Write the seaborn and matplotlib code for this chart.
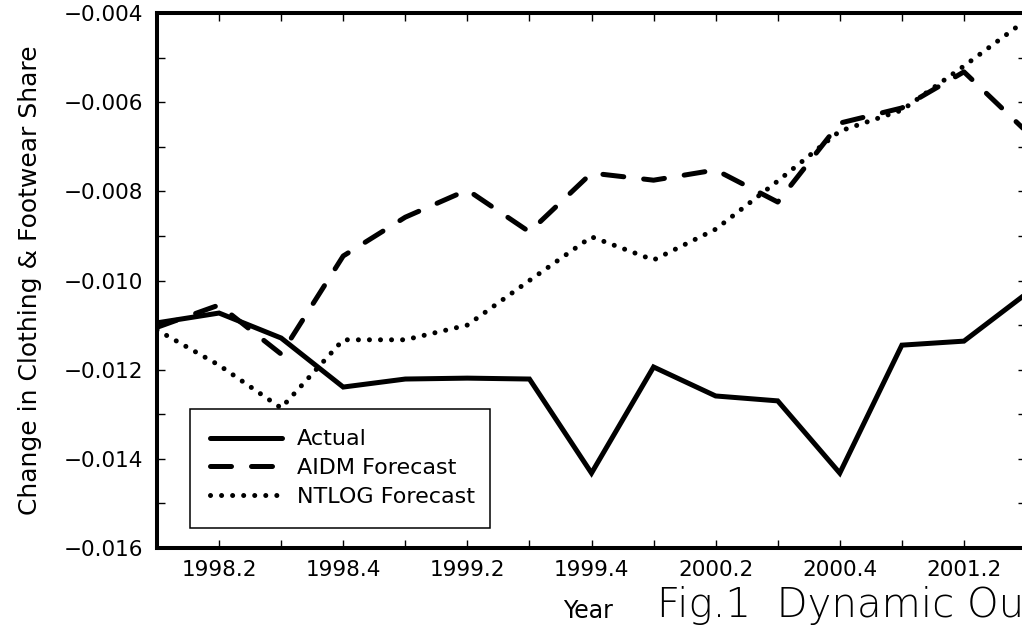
import numpy as np
import pandas as pd
import matplotlib
matplotlib.use("Agg")
import matplotlib.pyplot as plt
import seaborn as sns
from matplotlib.ticker import FixedLocator, MultipleLocator, FixedFormatter

# ---- data ----
quarters = ["1998.1", "1998.2", "1998.3", "1998.4",
            "1999.1", "1999.2", "1999.3", "1999.4",
            "2000.1", "2000.2", "2000.3", "2000.4",
            "2001.1", "2001.2", "2001.3"]
actual = [-0.01095, -0.01073, -0.01129, -0.01239,
          -0.01221, -0.01219, -0.01221, -0.01432,
          -0.01194, -0.01259, -0.01270, -0.01432,
          -0.01145, -0.01136, -0.01030]
aidm = [-0.01105, -0.01055, -0.01165, -0.00945,
        -0.00858, -0.00797, -0.00891, -0.00759,
        -0.00775, -0.00752, -0.00824, -0.00647,
        -0.00613, -0.00532, -0.00665]
ntlog = [-0.01111, -0.01190, -0.01286, -0.01133,
         -0.01133, -0.01100, -0.01000, -0.00902,
         -0.00954, -0.00885, -0.00777, -0.00665,
         -0.00618, -0.00519, -0.00416]
series_names = ["Actual", "AIDM Forecast", "NTLOG Forecast"]
xtick_labels = ["1998.2", "1998.4", "1999.2", "1999.4", "2000.2", "2000.4", "2001.2"]
ytick_values = [-0.016, -0.014, -0.012, -0.010, -0.008, -0.006, -0.004]
ytick_labels = ["\u22120.016", "\u22120.014", "\u22120.012", "\u22120.010",
                "\u22120.008", "\u22120.006", "\u22120.004"]
ylabel = "Change in Clothing & Footwear Share"
xlabel = "Year"
caption = "Fig.1  Dynamic Out-of-Sample Forecasts"

sns.set_style("ticks")
plt.rcParams["font.family"] = ["DejaVu Sans"]
plt.rcParams["text.color"] = "black"
plt.rcParams["axes.labelcolor"] = "black"
plt.rcParams["xtick.color"] = "black"
plt.rcParams["ytick.color"] = "black"

fig = plt.figure(figsize=(10.22, 6.25), dpi=100)
W, H = 1022, 625
ax = fig.add_axes([157 / W, 1 - 548 / H, 869 / W, 535 / H])

x = np.arange(len(quarters))
lw = 3.6
sns.lineplot(x=x, y=actual, ax=ax, color="black", linewidth=lw,
             label=series_names[0], solid_capstyle="round", solid_joinstyle="miter")
sns.lineplot(x=x, y=aidm, ax=ax, color="black", linewidth=lw,
             label=series_names[1], linestyle=(0, (4.2, 4.0)),
             dash_capstyle="round")
sns.lineplot(x=x, y=ntlog, ax=ax, color="black", linewidth=lw,
             label=series_names[2], linestyle=(0, (0.01, 2.2)),
             dash_capstyle="round")

ax.set_xlim(0, len(quarters) - 1)
ax.set_ylim(-0.016, -0.004)

# x ticks: every quarter, labels every other quarter
ax.xaxis.set_major_locator(FixedLocator([quarters.index(q) for q in xtick_labels]))
ax.xaxis.set_major_formatter(FixedFormatter(xtick_labels))
ax.xaxis.set_minor_locator(MultipleLocator(1))
ax.yaxis.set_major_locator(FixedLocator(ytick_values))
ax.yaxis.set_major_formatter(FixedFormatter(ytick_labels))
ax.yaxis.set_minor_locator(MultipleLocator(0.001))

ax.tick_params(which="both", direction="in", top=True, right=True,
               length=6, width=1.0, color="black")
ax.tick_params(axis="x", which="major", labelsize=15.5, pad=9, labelcolor="black")
ax.tick_params(axis="y", which="major", labelsize=15.5, pad=10, labelcolor="black")

for s in ax.spines.values():
    s.set_linewidth(2.9)
    s.set_color("black")
    s.set_visible(True)

ax.set_xlabel("")
ax.set_ylabel(ylabel, fontsize=18, color="black")
ax.yaxis.set_label_coords(-0.132, 0.5)

leg = ax.legend(loc="upper left", bbox_to_anchor=(0.038, 0.0, 0.345, 0.26),
                mode="expand", borderaxespad=0, fontsize=16,
                handlelength=3.2, handletextpad=0.7, labelspacing=0.4,
                borderpad=0.92, fancybox=False, framealpha=1,
                edgecolor="black")
leg.get_frame().set_linewidth(1.1)
for t in leg.get_texts():
    t.set_color("black")

fig.text(563 / W, 1 - 618 / H, xlabel, fontsize=17, va="baseline", ha="left")
fig.text(657 / W, 1 - 617 / H, caption, fontsize=29, va="baseline", ha="left",
         fontweight="light")

fig.savefig("out.png", dpi=100)
